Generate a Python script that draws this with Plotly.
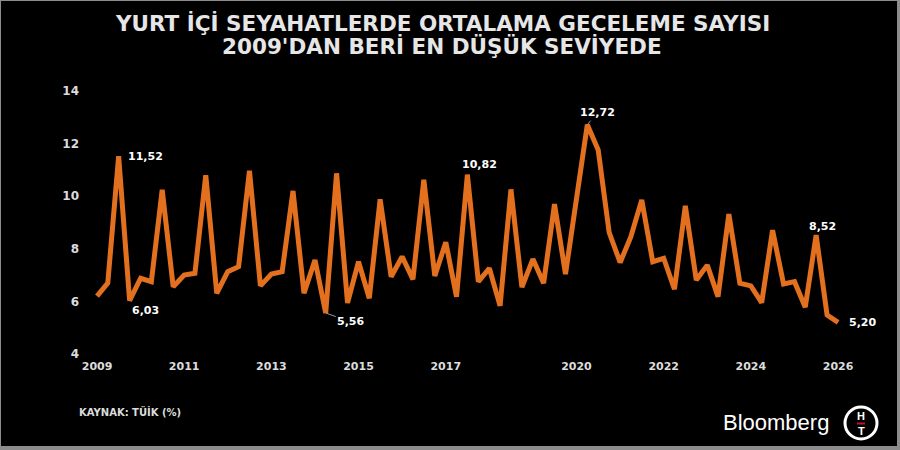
import pandas as pd
import plotly.graph_objects as go

# ortalama geceleme sayisi, ceyreklik (2009 Q1'den itibaren)
quarters = pd.date_range("2009-01-01", periods=69, freq="QS")
nights = [
    6.20, 6.70, 11.52, 6.03, 6.88, 6.75, 10.24, 6.56, 7.00, 7.07,
    10.80, 6.31, 7.13, 7.32, 10.97, 6.59, 7.04, 7.13, 10.20, 6.31,
    7.57, 5.56, 10.87, 5.94, 7.51, 6.12, 9.88, 6.94, 7.70, 6.84,
    10.62, 6.97, 8.25, 6.18, 10.82, 6.75, 7.26, 5.83, 10.26, 6.54,
    7.61, 6.69, 9.70, 7.04, 9.90, 12.72, 11.76, 8.62, 7.48, 8.46,
    9.86, 7.51, 7.64, 6.46, 9.63, 6.81, 7.38, 6.18, 9.32, 6.69,
    6.59, 5.95, 8.71, 6.66, 6.75, 5.78, 8.52, 5.48, 5.20,
]

tick_years = ["2009", "2011", "2013", "2015", "2017", "2020", "2022", "2024", "2026"]
tick_dates = [y + "-01-01" for y in tick_years]

# etiketlenen noktalar: (indeks, metin, xshift, yshift, ok)
labels = [
    (2, "11,52", 27, 0, False),
    (3, "6,03", 16, -10, False),
    (21, "5,56", 25, 9, True),
    (34, "10,82", 12, 10, False),
    (45, "12,72", 10, -12, True),
    (66, "8,52", 6, 9, False),
    (68, "5,20", 24, 0, False),
]

W, H = 900, 450
L, R, T, B = 90, 55, 91, 96


def px(x):
    return (x - L) / (W - L - R)


def py(y):
    return (H - B - y) / (H - T - B)


ORANGE = "#E2701F"
TXT = "#DCDCDC"
FONT = "DejaVu Sans"


def note(x, y, text, size, color="white", family=FONT, xanchor="center"):
    return dict(x=px(x), y=py(y), xref="paper", yref="paper", showarrow=False,
                xanchor=xanchor, yanchor="middle", text=text,
                font=dict(family=family, size=size, color=color))


fig = go.Figure()
fig.add_trace(go.Scatter(x=quarters, y=nights, mode="lines",
                         line=dict(color=ORANGE, width=5), hoverinfo="skip"))

ann = []
for i, t, xs, ys, arrow in labels:
    if arrow:
        ann.append(dict(x=quarters[i], y=nights[i], text="<b>" + t + "</b>", showarrow=True,
                        ax=xs, ay=ys, arrowhead=0, arrowwidth=1, arrowcolor="#9a9a9a",
                        font=dict(family=FONT, size=11, color="white")))
    else:
        ann.append(dict(x=quarters[i], y=nights[i], text="<b>" + t + "</b>", showarrow=False,
                        xshift=xs, yshift=ys, font=dict(family=FONT, size=11, color="white")))

ann += [
    note(442, 24, "<b>YURT İÇİ SEYAHATLERDE ORTALAMA GECELEME SAYISI</b>", 21.5, "#E6E6E6"),
    note(442, 47, "<b>2009'DAN BERİ EN DÜŞÜK SEVİYEDE</b>", 21.5, "#E6E6E6"),
    note(77, 411, "<b>KAYNAK: TÜİK (%)</b>", 10, TXT, xanchor="left"),
    note(776, 422, "Bloomberg", 22, family="Liberation Sans"),
    note(861, 416, "<b>H</b>", 11, family="Liberation Sans"),
    note(861, 431, "<b>T</b>", 11, family="Liberation Sans"),
]

shapes = [
    # cerceve
    dict(type="rect", xref="paper", yref="paper", x0=px(1), x1=px(897), y0=py(1), y1=py(446),
         fillcolor="black", line=dict(width=0), layer="below"),
    # logo
    dict(type="circle", xref="paper", yref="paper", x0=px(845), x1=px(877), y0=py(407), y1=py(439),
         line=dict(color="white", width=3)),
    dict(type="line", xref="paper", yref="paper", x0=px(857), x1=px(865), y0=py(423.5), y1=py(423.5),
         line=dict(color="#C8102E", width=2)),
]

fig.update_layout(
    width=W, height=H,
    margin=dict(l=L, r=R, t=T, b=B),
    paper_bgcolor="#8C8C8C",
    plot_bgcolor="black",
    showlegend=False,
    annotations=ann,
    shapes=shapes,
)
fig.update_xaxes(range=["2008-11-03", "2026-02-28"], tickvals=tick_dates,
                 ticktext=["<b>" + y + "</b>" for y in tick_years],
                 tickfont=dict(family=FONT, size=11, color=TXT),
                 showgrid=False, zeroline=False, showline=False, ticks="",
                 ticklabelstandoff=4)
fig.update_yaxes(range=[4, 14], dtick=2,
                 tickfont=dict(family=FONT, size=12, color=TXT, weight="bold"),
                 showgrid=False, zeroline=False, showline=False, ticks="",
                 ticklabelstandoff=10)

fig.write_html("out.html", config={"displayModeBar": False},
               post_script="document.body.style.margin='0';")
